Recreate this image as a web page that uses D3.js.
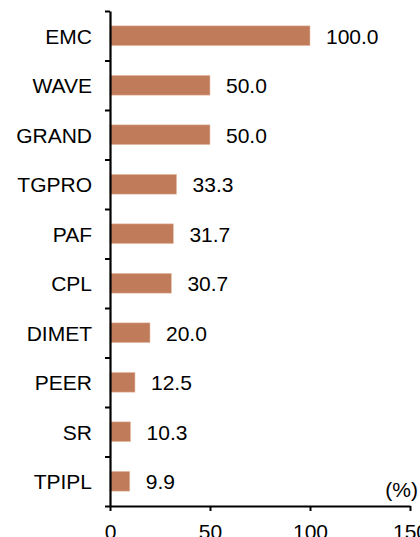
<!DOCTYPE html>
<html>
<head>
<meta charset="utf-8">
<script src="https://cdn.jsdelivr.net/npm/d3@7"></script>
<style>
  body { margin: 0; background: #fff; }
  svg { display: block; font-family: "Liberation Sans", Arial, sans-serif; }
</style>
</head>
<body>
<svg id="chart" width="420" height="537"></svg>
<script>
let categories = ["EMC", "WAVE", "GRAND", "TGPRO", "PAF", "CPL", "DIMET", "PEER", "SR", "TPIPL"];
let values = [100.0, 50.0, 50.0, 33.3, 31.7, 30.7, 20.0, 12.5, 10.3, 9.9];
let xTicks = [0, 50, 100, 150];
let unitLabel = "(%)";

let fontSize = 21;

let svg = d3.select("#chart"),
    margin = {top: 11, left: 110},
    width = 300,
    height = 495,
    g = svg.append("g").attr("transform", "translate(" + margin.left + "," + margin.top + ")");

let scaleX = d3.scaleLinear()
    .domain([0, 150])
    .range([0, width]);

let scaleY = d3.scaleBand()
    .domain(categories)
    .range([0, height])
    .paddingInner(0.6)
    .paddingOuter(0.3);

let data = categories.map((c, i) => ({name: c, value: values[i]}));

// bars
g.append("g")
    .selectAll("rect")
    .data(data)
    .enter().append("rect")
    .attr("x", scaleX(0))
    .attr("y", d => scaleY(d.name))
    .attr("width", d => scaleX(d.value) - scaleX(0))
    .attr("height", scaleY.bandwidth())
    .attr("fill", "#c07c5a")
    .attr("stroke", "#e8c2ad")
    .attr("stroke-width", 0.6);

// value labels
g.append("g")
    .selectAll("text")
    .data(data)
    .enter().append("text")
    .attr("x", d => scaleX(d.value) + 16)
    .attr("y", d => scaleY(d.name) + scaleY.bandwidth() / 2)
    .attr("dy", "0.38em")
    .attr("font-size", fontSize)
    .attr("fill", "#000")
    .text(d => d.value.toFixed(1));

// y axis: boundary ticks between categories
let boundary = d3.scaleLinear().domain([0, categories.length]).range([0, height]);
let yAxis = g.append("g")
    .call(d3.axisLeft(boundary)
        .tickValues(d3.range(categories.length + 1))
        .tickSize(5)
        .tickSizeOuter(0)
        .tickFormat(""));
yAxis.select(".domain").attr("stroke", "#000").attr("stroke-width", 2.2);
yAxis.selectAll(".tick line").attr("stroke", "#000").attr("stroke-width", 2);

// category labels
let yLabels = g.append("g")
    .call(d3.axisLeft(scaleY).tickSize(0).tickPadding(18));
yLabels.select(".domain").remove();
yLabels.selectAll("text")
    .attr("font-size", fontSize)
    .attr("font-family", "Liberation Sans, Arial, sans-serif")
    .attr("fill", "#000")
    .attr("dy", "0.38em");

// x axis
let xAxis = g.append("g")
    .attr("transform", "translate(0," + height + ")")
    .call(d3.axisBottom(scaleX)
        .tickValues(xTicks)
        .tickSize(5)
        .tickSizeOuter(0)
        .tickPadding(13));
xAxis.select(".domain").attr("stroke", "#000").attr("stroke-width", 2.2);
xAxis.selectAll(".tick line").attr("stroke", "#000").attr("stroke-width", 2);
xAxis.selectAll("text")
    .attr("font-size", fontSize)
    .attr("font-family", "Liberation Sans, Arial, sans-serif")
    .attr("fill", "#000");

// unit label
g.append("text")
    .attr("x", 418 - margin.left)
    .attr("y", height - 9)
    .attr("text-anchor", "end")
    .attr("font-size", fontSize)
    .attr("fill", "#000")
    .text(unitLabel);
</script>
</body>
</html>
